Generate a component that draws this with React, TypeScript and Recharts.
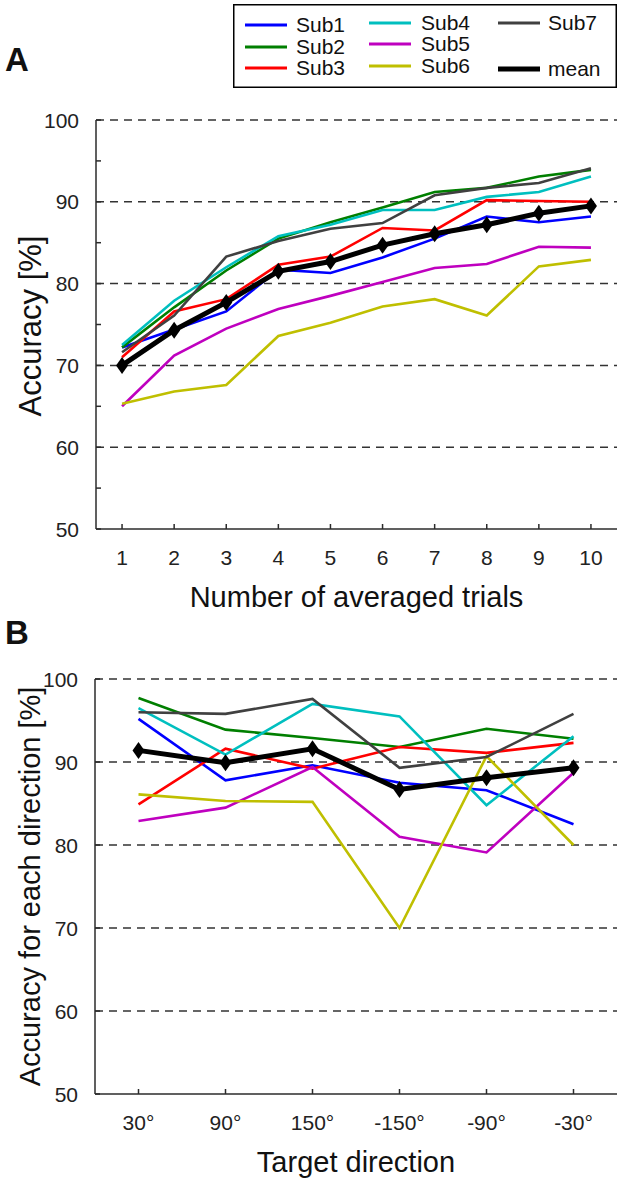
import React from 'react';
import { LineChart, Line, XAxis, YAxis, ReferenceLine, Legend, Label } from 'recharts';

// ---------- data ----------
const trials = [1, 2, 3, 4, 5, 6, 7, 8, 9, 10];
const sub1A = [72.2, 74.4, 76.6, 81.7, 81.3, 83.2, 85.5, 88.2, 87.5, 88.2];
const sub2A = [72.2, 77.1, 81.6, 85.5, 87.5, 89.3, 91.2, 91.7, 93.1, 93.9];
const sub3A = [71.0, 76.6, 78.1, 82.3, 83.3, 86.8, 86.5, 90.2, 90.1, 90.0];
const sub4A = [72.5, 77.9, 82.0, 85.8, 87.2, 89.0, 89.0, 90.6, 91.2, 93.1];
const sub5A = [65.0, 71.2, 74.5, 76.9, 78.5, 80.2, 81.9, 82.4, 84.5, 84.4];
const sub6A = [65.3, 66.8, 67.6, 73.6, 75.2, 77.2, 78.1, 76.1, 82.1, 82.9];
const sub7A = [71.6, 76.1, 83.3, 85.2, 86.7, 87.4, 90.8, 91.7, 92.3, 94.1];
const meanA = [70.0, 74.3, 77.7, 81.5, 82.7, 84.7, 86.1, 87.2, 88.6, 89.5];

const directionLabels = ['30°', '90°', '150°', '-150°', '-90°', '-30°'];
const directionIndex = [1, 2, 3, 4, 5, 6];
const sub1B = [95.2, 87.8, 89.6, 87.5, 86.6, 82.5];
const sub2B = [97.7, 93.9, 92.9, 91.8, 94.0, 92.8];
const sub3B = [84.9, 91.6, 89.2, 91.8, 91.1, 92.3];
const sub4B = [96.5, 90.9, 97.0, 95.5, 84.8, 93.1];
const sub5B = [82.9, 84.5, 89.4, 81.0, 79.1, 88.7];
const sub6B = [86.1, 85.3, 85.2, 70.0, 90.7, 80.0];
const sub7B = [96.0, 95.8, 97.6, 89.3, 90.6, 95.8];
const meanB = [91.4, 89.9, 91.6, 86.7, 88.1, 89.3];

const seriesNames = ['Sub1', 'Sub2', 'Sub3', 'Sub4', 'Sub5', 'Sub6', 'Sub7', 'mean'];
const seriesKeys = ['sub1', 'sub2', 'sub3', 'sub4', 'sub5', 'sub6', 'sub7', 'mean'];
const seriesColors = ['#0000ff', '#007f00', '#ff0000', '#00bfbf', '#bf00bf', '#bfbf00', '#404040', '#000000'];

const yTicksA = [50, 55, 60, 65, 70, 75, 80, 85, 90, 95, 100];
const yTicksB = [50, 60, 70, 80, 90, 100];
const gridValues = [60, 70, 80, 90, 100];

const seriesA = [sub1A, sub2A, sub3A, sub4A, sub5A, sub6A, sub7A, meanA];
const seriesB = [sub1B, sub2B, sub3B, sub4B, sub5B, sub6B, sub7B, meanB];

const rowsA = trials.map((t, i) => {
  const r: any = { x: t };
  seriesKeys.forEach((k, s) => (r[k] = seriesA[s][i]));
  return r;
});
const rowsB = directionIndex.map((t, i) => {
  const r: any = { x: t };
  seriesKeys.forEach((k, s) => (r[k] = seriesB[s][i]));
  return r;
});

const FONT = '"Liberation Sans", Arial, Helvetica, sans-serif';
const AXIS = '#2b2b2b';

// ---------- components ----------
const Diamond = (props: any) => {
  const { cx, cy } = props;
  if (cx == null || cy == null) return null;
  const w = 6, h = 8.5;
  return <polygon points={`${cx},${cy - h} ${cx + w},${cy} ${cx},${cy + h} ${cx - w},${cy}`} fill="#000" />;
};

const makeYTick = (labelStep: number) => (props: any) => {
  const { x, y, payload } = props;
  const v = payload.value;
  const major = v % labelStep === 0;
  return (
    <g>
      <line x1={x} x2={x + 5} y1={y} y2={y} stroke={AXIS} strokeWidth={1.5} />
      {major && (
        <text x={x - 17} y={y} textAnchor="end" dominantBaseline="central" fontFamily={FONT} fontSize={21} fill="#222">
          {v}
        </text>
      )}
    </g>
  );
};

const makeXTick = (fmt: (v: number) => string) => (props: any) => {
  const { x, y, payload } = props;
  return (
    <g>
      <line x1={x} x2={x} y1={y} y2={y - 5} stroke={AXIS} strokeWidth={1.5} />
      <text x={x} y={y + 36} textAnchor="middle" fontFamily={FONT} fontSize={21} fill="#222">
        {fmt(payload.value)}
      </text>
    </g>
  );
};

const XTitle = (text: string, cx: number, by: number) => () => (
  <text x={cx} y={by} textAnchor="middle" fontFamily={FONT} fontSize={29} fill="#111">
    {text}
  </text>
);

const YTitle = (text: string, cx: number, cy: number, size: number) => () => (
  <text
    x={cx}
    y={cy}
    transform={`rotate(-90 ${cx} ${cy})`}
    textAnchor="middle"
    dominantBaseline="central"
    fontFamily={FONT}
    fontSize={size}
    fill="#111"
  >
    {text}
  </text>
);

const legendLayout = [
  { lx: 12, tx: 63, y: 20 },
  { lx: 12, tx: 63, y: 42 },
  { lx: 12, tx: 63, y: 63 },
  { lx: 136, tx: 188, y: 18 },
  { lx: 136, tx: 188, y: 39 },
  { lx: 136, tx: 188, y: 61 },
  { lx: 265, tx: 315, y: 18 },
  { lx: 265, tx: 315, y: 64 },
];

const LegendBox = () => (
  <svg width={384} height={84} style={{ display: 'block' }}>
    <rect x={0.75} y={0.75} width={382.5} height={82.5} fill="#fff" stroke="#000" strokeWidth={1.5} />
    {seriesNames.map((n, i) => {
      const p = legendLayout[i];
      return (
        <g key={n}>
          <line x1={p.lx} x2={p.lx + 42} y1={p.y + 1} y2={p.y + 1} stroke={seriesColors[i]} strokeWidth={i === 7 ? 5 : 3} />
          <text x={p.tx} y={p.y} dominantBaseline="central" fontFamily={FONT} fontSize={21} fill="#111">
            {n}
          </text>
        </g>
      );
    })}
  </svg>
);

const panelLetter = (t: string, top: number) => (
  <div
    style={{
      position: 'absolute',
      left: 5,
      top,
      fontFamily: FONT,
      fontWeight: 'bold',
      fontSize: 33,
      lineHeight: '33px',
      color: '#111',
    }}
  >
    {t}
  </div>
);

const renderLines = () =>
  seriesKeys.map((k, i) => (
    <Line
      key={k}
      type="linear"
      dataKey={k}
      name={seriesNames[i]}
      stroke={seriesColors[i]}
      strokeWidth={i === 7 ? 5 : 2.6}
      dot={i === 7 ? <Diamond /> : false}
      activeDot={false}
      isAnimationActive={false}
    />
  ));

const renderGrid = () =>
  gridValues.map((v) => (
    <ReferenceLine key={v} y={v} stroke="#333" strokeWidth={1.5} strokeDasharray="8 6" />
  ));

export default function App() {
  return (
    <div style={{ position: 'absolute', left: 0, top: 0, width: 626, height: 1184, background: '#fff' }}>
      {panelLetter('A', 43)}
      {panelLetter('B', 616)}
      <div style={{ position: 'absolute', left: 0, top: 0 }}>
        <LineChart width={626} height={620} data={rowsA} margin={{ top: 120, right: 9, bottom: 0, left: 0 }}>
          {renderGrid()}
          <XAxis
            dataKey="x"
            type="number"
            domain={[0.5, 10.5]}
            ticks={trials}
            interval={0}
            height={91}
            tickSize={0}
            tickMargin={0}
            axisLine={{ stroke: AXIS, strokeWidth: 1.5 }}
            tickLine={false}
            tick={makeXTick((v) => String(v))}
          >
            <Label content={XTitle('Number of averaged trials', 356.5, 607)} />
          </XAxis>
          <YAxis
            type="number"
            domain={[50, 100]}
            ticks={yTicksA}
            interval={0}
            width={96}
            tickSize={0}
            tickMargin={0}
            axisLine={{ stroke: AXIS, strokeWidth: 1.5 }}
            tickLine={false}
            tick={makeYTick(10)}
          >
            <Label content={YTitle('Accuracy [%]', 30, 326, 31)} />
          </YAxis>
          <Legend
            layout="horizontal"
            verticalAlign="middle"
            align="center"
            wrapperStyle={{ left: 233, top: 4, width: 384, height: 84 }}
            content={() => <LegendBox />}
          />
          {renderLines()}
        </LineChart>
      </div>
      <div style={{ position: 'absolute', left: 0, top: 620 }}>
        <LineChart width={626} height={564} data={rowsB} margin={{ top: 59, right: 9, bottom: 0, left: 0 }}>
          {renderGrid()}
          <XAxis
            dataKey="x"
            type="number"
            domain={[0.5, 6.5]}
            ticks={directionIndex}
            interval={0}
            height={90}
            tickSize={0}
            tickMargin={0}
            axisLine={{ stroke: AXIS, strokeWidth: 1.5 }}
            tickLine={false}
            tick={makeXTick((v) => directionLabels[v - 1])}
          >
            <Label content={XTitle('Target direction', 356, 552)} />
          </XAxis>
          <YAxis
            type="number"
            domain={[50, 100]}
            ticks={yTicksB}
            interval={0}
            width={95}
            tickSize={0}
            tickMargin={0}
            axisLine={{ stroke: AXIS, strokeWidth: 1.5 }}
            tickLine={false}
            tick={makeYTick(10)}
          >
            <Label content={YTitle('Accuracy for each direction [%]', 30, 266.5, 29)} />
          </YAxis>
          {renderLines()}
        </LineChart>
      </div>
    </div>
  );
}
